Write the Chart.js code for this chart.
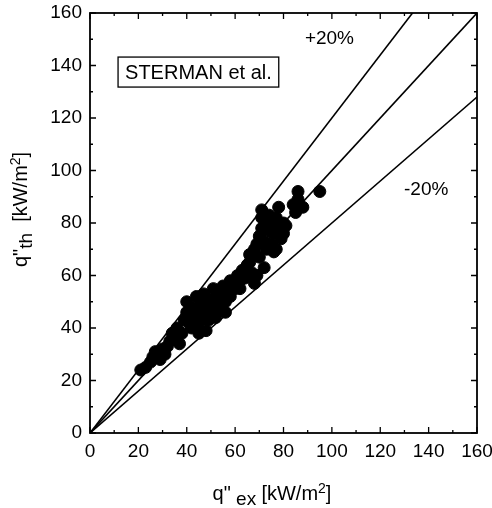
<!DOCTYPE html>
<html><head><meta charset="utf-8">
<script src="https://cdn.jsdelivr.net/npm/chart.js@4/dist/chart.umd.min.js"></script>
<style>html,body{margin:0;padding:0;background:#fff}#wrap{width:492px;height:508px}</style>
</head><body><div id="wrap"><canvas id="c" width="492" height="508"></canvas></div>
<script>
const qEx = [21,23,25,26,27,28,29,30,31,32,33,34,35,36,37,38,39,40,40,41,42,42,43,44,45,45,46,47,47,48,49,50,50,51,52,52,53,54,55,55,56,57,58,58,59,60,61,62,63,64,65,66,66,67,68,68,69,70,70,71,71,72,72,73,73,74,74,75,75,76,77,77,78,78,79,80,80,81,84,85,86,86,88,95,44,48,56,62,69,76,71];
const qTh = [24,25,27,29,31,30,28,32,30,33,35,38,36,40,34,38,43,50,46,42,48,40,44,47,42,38,50,45,53,48,43,51,46,55,49,44,53,47,52,56,50,54,58,52,56,55,60,58,62,59,64,65,68,61,57,70,72,67,75,78,82,73,63,80,70,77,83,72,80,76,70,82,86,78,74,80,76,79,87,84,92,89,86,92,52,39,46,55,60,69,85];
const slopes = [1.2, 1.0, 0.8];
const lineLabels = ['+20%', '', '-20%'];
const axisMax = 160;
const tickStep = 20;

const points = qEx.map((x,i)=>({x:x,y:qTh[i]}));
const lineSets = slopes.map(s=>({
  type:'line', data:[{x:0,y:0},{x:axisMax,y:s*axisMax}],
  borderColor:'#000', borderWidth:1.6, pointRadius:0, fill:false, tension:0
}));

const FONT = '"Liberation Sans", Arial, sans-serif';

const deco = {
  id:'deco',
  afterDraw(chart){
    const {ctx, chartArea:a, scales:{x,y}} = chart;
    ctx.save();
    ctx.strokeStyle='#000'; ctx.lineWidth=1.8;
    ctx.strokeRect(a.left,a.top,a.right-a.left,a.bottom-a.top);
    ctx.lineWidth=1.3;
    for(let v=0; v<=axisMax; v+=tickStep/2){
      const major = v % tickStep === 0;
      const L = major?6:3;
      const px = x.getPixelForValue(v), py = y.getPixelForValue(v);
      ctx.beginPath();
      ctx.moveTo(px,a.bottom); ctx.lineTo(px,a.bottom-L);
      ctx.moveTo(px,a.top); ctx.lineTo(px,a.top+L);
      ctx.moveTo(a.left,py); ctx.lineTo(a.left+L,py);
      ctx.moveTo(a.right,py); ctx.lineTo(a.right-L,py);
      ctx.stroke();
    }
    ctx.fillStyle='#000';
    ctx.font='20px '+FONT;
    ctx.textBaseline='middle'; ctx.textAlign='left';
    const t='STERMAN et al.';
    const tw=ctx.measureText(t).width;
    const bx=x.getPixelForValue(11.6), by=y.getPixelForValue(137.5);
    ctx.lineWidth=1.3;
    ctx.strokeRect(bx,by-15,tw+14,30);
    ctx.fillText(t,bx+7,by+1);
    ctx.font='19px '+FONT;
    ctx.textAlign='center';
    ctx.fillText(lineLabels[0], x.getPixelForValue(99), y.getPixelForValue(150));
    ctx.fillText(lineLabels[2], x.getPixelForValue(139), y.getPixelForValue(92.5));
    const drawTitle=(parts, align)=>{
      let w=0;
      parts.forEach(p=>{ctx.font=p.f; w+=ctx.measureText(p.t).width;});
      let cx = align==='center' ? -w/2 : 0;
      ctx.textAlign='left';
      parts.forEach(p=>{ctx.font=p.f; ctx.fillText(p.t,cx,p.dy); cx+=ctx.measureText(p.t).width;});
    };
    ctx.textBaseline='alphabetic';
    ctx.save();
    ctx.translate(272,500);
    drawTitle([
      {t:'q"',f:'20px '+FONT,dy:0},
      {t:' ex ',f:'19px '+FONT,dy:5},
      {t:'[kW/m',f:'20px '+FONT,dy:0},
      {t:'2',f:'14px '+FONT,dy:-7},
      {t:']',f:'20px '+FONT,dy:0}
    ],'center');
    ctx.restore();
    ctx.save();
    ctx.translate(27,267); ctx.rotate(-Math.PI/2);
    drawTitle([
      {t:'q"',f:'20px '+FONT,dy:0},
      {t:'th',f:'19px '+FONT,dy:5},
      {t:'  [kW/m',f:'20px '+FONT,dy:0},
      {t:'2',f:'14px '+FONT,dy:-7},
      {t:']',f:'20px '+FONT,dy:0}
    ],'left');
    ctx.restore();
    ctx.restore();
  }
};

new Chart(document.getElementById('c'), {
  type:'scatter',
  data:{datasets:[
    {data:points, backgroundColor:'#000', borderColor:'#000', pointRadius:6, pointHoverRadius:6},
    ...lineSets
  ]},
  options:{
    responsive:false, animation:false, devicePixelRatio:1,
    layout:{autoPadding:false, padding:{left:0,right:15,top:13,bottom:0}},
    plugins:{legend:{display:false},tooltip:{enabled:false}},
    scales:{
      x:{type:'linear',min:0,max:axisMax,
        grid:{display:false,drawTicks:false}, border:{display:false},
        ticks:{stepSize:tickStep,color:'#000',font:{size:19,family:FONT},padding:7},
        afterFit(s){s.height=75; s.paddingLeft=0; s.paddingRight=0;}
      },
      y:{type:'linear',min:0,max:axisMax,
        grid:{display:false,drawTicks:false}, border:{display:false},
        ticks:{stepSize:tickStep,color:'#000',font:{size:19,family:FONT},padding:8},
        afterFit(s){s.width=90; s.paddingTop=0; s.paddingBottom=0;}
      }
    }
  },
  plugins:[deco]
});
</script></body></html>
